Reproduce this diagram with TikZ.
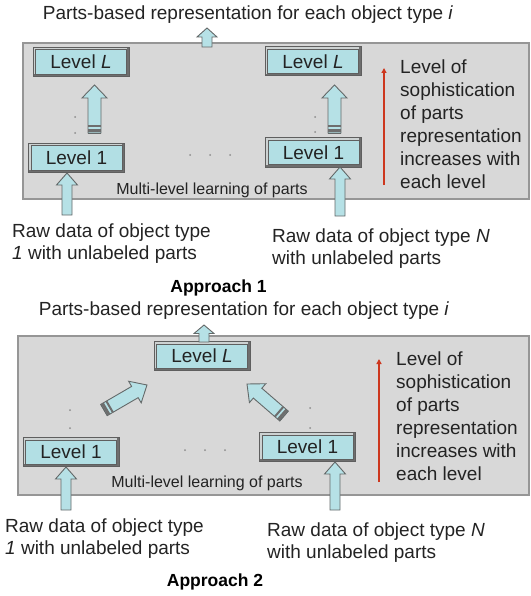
\documentclass[tikz,border=0pt]{standalone}
\usepackage{fontspec}
\setmainfont{Liberation Sans}
\usetikzlibrary{calc,arrows.meta}

\definecolor{panelfill}{RGB}{216,216,216}
\definecolor{paneledge}{RGB}{150,150,150}
\definecolor{boxfill}{RGB}{178,223,228}
\definecolor{boxedge}{RGB}{95,95,95}
\definecolor{bevlight}{RGB}{205,210,210}
\definecolor{bevdark}{RGB}{110,110,110}
\definecolor{arrfill}{RGB}{182,225,230}
\definecolor{arredge}{RGB}{100,105,105}
\definecolor{inkcol}{RGB}{35,35,35}
\definecolor{redarr}{RGB}{205,55,30}
\definecolor{dotcol}{RGB}{140,140,140}

% block arrow: [options]{tail}{tip}{shaft half width}{head half width}{head length}
\newcommand{\blkarrow}[6][]{%
  \path ($(#3)!#6!(#2)$) coordinate (hb);
  \filldraw[arrowbody,#1]
    ($(#2)!#4!90:(#3)$) -- ($(hb)!#4!90:(#3)$) -- ($(hb)!#5!90:(#3)$) -- (#3)
    -- ($(hb)!#5!-90:(#3)$) -- ($(hb)!#4!-90:(#3)$) -- ($(#2)!#4!-90:(#3)$) -- cycle;}
% dark bands across the tail end of a block arrow: {tail}{tip}{shaft half width}
\newcommand{\blkbands}[3]{%
  \path ($(#1)!2pt!(#2)$) coordinate (sa) ($(#1)!6.5pt!(#2)$) coordinate (sb);
  \draw[bevdark,line width=3pt] ($(sa)!#3!90:(#2)$) -- ($(sa)!#3!-90:(#2)$);
  \draw[bevdark,line width=2pt] ($(sb)!#3!90:(#2)$) -- ($(sb)!#3!-90:(#2)$);
  \draw[arrowbody,fill=none] ($(#1)!#3!90:(#2)$) -- ($(#1)!#3!-90:(#2)$);}

\tikzset{
  txt/.style={inner sep=0pt, text=inkcol, font=\fontsize{19}{22.5}\selectfont},
  sidetxt/.style={txt, align=left, anchor=west, font=\fontsize{19}{23}\selectfont},
  rawtxt/.style={txt, align=left, anchor=west, font=\fontsize{19}{22}\selectfont},
  heading/.style={inner sep=0pt, text=black, font=\fontsize{17.5}{20}\selectfont\bfseries},
  multitxt/.style={inner sep=0pt, text=inkcol, font=\fontsize{16}{18}\selectfont},
  panel/.style={draw=paneledge, line width=1.3pt, fill=panelfill},
  levelbox/.style={draw=boxedge, line width=1pt, fill=boxfill, text=inkcol,
    minimum width=96pt, minimum height=29pt, inner sep=0pt,
    font=\fontsize{19}{22}\selectfont,
    path picture={
      \draw[bevlight,line width=4.5pt]
        (path picture bounding box.south west) -- (path picture bounding box.north west)
        -- (path picture bounding box.north east);
      \draw[bevdark,line width=4.5pt]
        (path picture bounding box.south west) -- (path picture bounding box.south east)
        -- (path picture bounding box.north east);
      \draw[boxedge,line width=0.6pt]
        ([xshift=2.3pt,yshift=2.3pt]path picture bounding box.south west) rectangle
        ([xshift=-2.3pt,yshift=-2.3pt]path picture bounding box.north east);}},
  arrowbody/.style={draw=arredge, line width=0.9pt, fill=arrfill, line join=miter},
  risearrow/.style={draw=redarr, line width=1.8pt, -{Triangle[length=5pt,width=5pt]}},
  dotmark/.style={fill=dotcol, draw=none}
}

\begin{document}
\begin{tikzpicture}[x=1pt,y=-1pt]
\useasboundingbox (0,0) rectangle (530,596);

% ---------------- Approach 1 ----------------
\node[txt] (top1) at (248,15) {Parts-based representation for each object type \textit{i}};
\draw[panel] (23,43) rectangle (529,199);

\node[levelbox] (LLa) at (81,62) {Level \textit{L}};
\node[levelbox] (LLb) at (313,61.5) {Level \textit{L}};
\node[levelbox] (L1a) at (76.5,158) {Level 1};
\node[levelbox] (L1b) at (313.5,152.5) {Level 1};

% output arrow through the top edge
\coordinate (oA) at (207,47); \coordinate (oB) at (207,28);
\blkarrow{oA}{oB}{5pt}{10pt}{9pt}

% level-to-level arrows
\coordinate (uaT) at (94.5,133); \coordinate (uaH) at (94.5,85);
\blkarrow{uaT}{uaH}{6.5pt}{12.5pt}{13pt}
\blkbands{uaT}{uaH}{6.5pt}
\coordinate (ubT) at (334.5,133); \coordinate (ubH) at (334.5,85);
\blkarrow{ubT}{ubH}{6.5pt}{12.5pt}{13pt}
\blkbands{ubT}{ubH}{6.5pt}

% input arrows
\coordinate (iaT) at (67,215); \coordinate (iaH) at (67,173);
\blkarrow{iaT}{iaH}{5pt}{10.5pt}{12pt}
\coordinate (ibT) at (340,216); \coordinate (ibH) at (340,167);
\blkarrow{ibT}{ibH}{5pt}{10.5pt}{12pt}

% dots
\foreach \p in {(75,117),(75,133),(315,117),(315,132),(190,155),(210,155),(230,155)}
  \fill[dotmark] \p circle (1pt);

\node[multitxt] (ml1) at (212,190) {Multi-level learning of parts};

\coordinate (r1a) at (384,185); \coordinate (r1b) at (384,68);
\draw[risearrow] (r1a) -- (r1b);
\node[sidetxt] (side1) at (400,124) {Level of\\sophistication\\of parts\\representation\\increases with\\each level};

\node[rawtxt] (raw1a) at (12,244) {Raw data of object type\\\textit{1} with unlabeled parts};
\node[rawtxt] (raw1b) at (272,248.5) {Raw data of object type \textit{N}\\with unlabeled parts};

\node[heading] (ap1) at (218.5,288) {Approach 1};

% ---------------- Approach 2 ----------------
\node[txt] (top2) at (244,311) {Parts-based representation for each object type \textit{i}};
\draw[panel] (18,336) rectangle (529,495);

\node[levelbox] (LL2) at (202,356) {Level \textit{L}};
\node[levelbox] (L12a) at (71,452) {Level 1};
\node[levelbox] (L12b) at (307.5,447) {Level 1};

\coordinate (o2A) at (204,342); \coordinate (o2B) at (204,325);
\blkarrow{o2A}{o2B}{5pt}{10pt}{8.5pt}

% converging arrows
\coordinate (daT) at (104,410); \coordinate (daH) at (147,385);
\blkarrow{daT}{daH}{6.5pt}{12.5pt}{14pt}
\blkbands{daT}{daH}{6.5pt}
\coordinate (dbT) at (284,416); \coordinate (dbH) at (247,384);
\blkarrow{dbT}{dbH}{6.5pt}{12.5pt}{14pt}
\blkbands{dbT}{dbH}{6.5pt}

\coordinate (ja) at (66,510); \coordinate (jaH) at (66,467);
\blkarrow{ja}{jaH}{5pt}{10.5pt}{12pt}
\coordinate (jb) at (335,510); \coordinate (jbH) at (335,462);
\blkarrow{jb}{jbH}{5pt}{10.5pt}{12pt}

\foreach \p in {(70,410),(70,428),(310,408),(310,428),(185,450),(205,450),(225,450)}
  \fill[dotmark] \p circle (1pt);

\node[multitxt] (ml2) at (207,483) {Multi-level learning of parts};

\coordinate (r2a) at (379,482); \coordinate (r2b) at (379,359);
\draw[risearrow] (r2a) -- (r2b);
\node[sidetxt] (side2) at (396,416.5) {Level of\\sophistication\\of parts\\representation\\increases with\\each level};

\node[rawtxt] (raw2a) at (5,538.5) {Raw data of object type\\\textit{1} with unlabeled parts};
\node[rawtxt] (raw2b) at (267,542.5) {Raw data of object type \textit{N}\\with unlabeled parts};

\node[heading] (ap2) at (215,582) {Approach 2};
\end{tikzpicture}
\end{document}
